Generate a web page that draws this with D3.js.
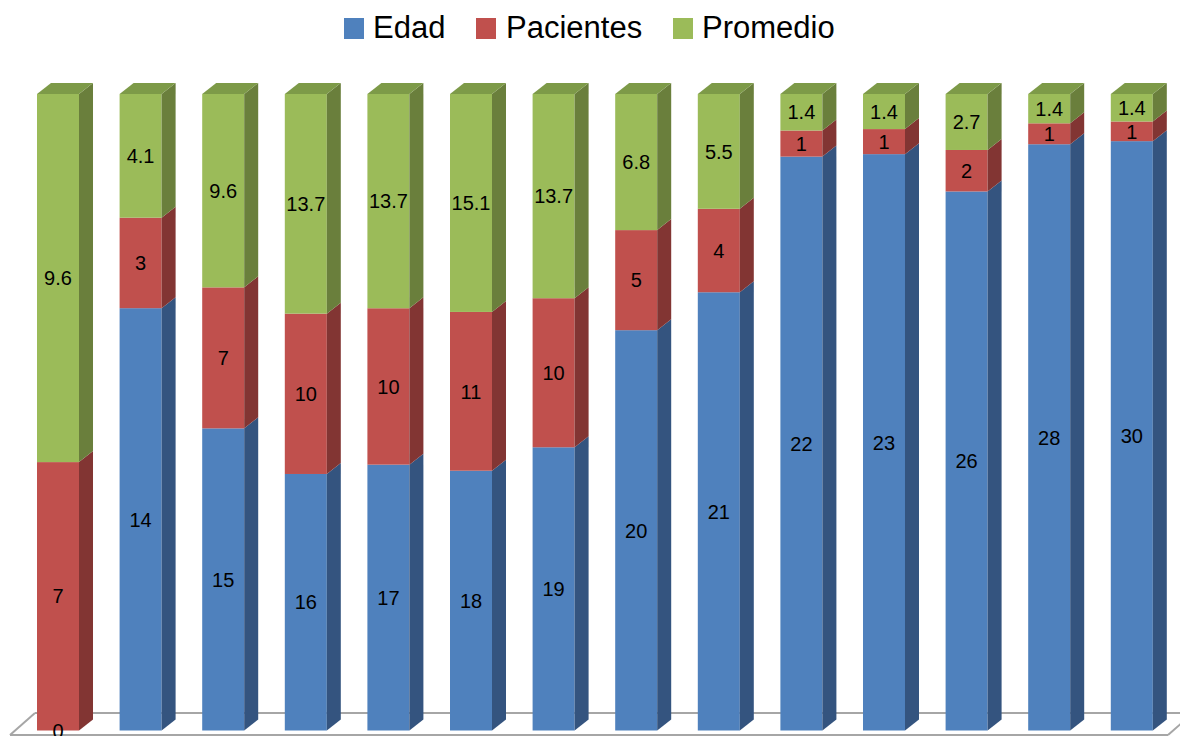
<!DOCTYPE html>
<html>
<head>
<meta charset="utf-8">
<script src="https://cdn.jsdelivr.net/npm/d3@7"></script>
<style>
  html, body { margin: 0; padding: 0; background: #ffffff; }
  svg { display: block; font-family: "Liberation Sans", Arial, sans-serif; }
</style>
</head>
<body>
<svg id="chart" width="1180" height="736"></svg>
<script>
// Age groups (one stacked column each) and the three stacked series
const categories = ["c1","c2","c3","c4","c5","c6","c7","c8","c9","c10","c11","c12","c13","c14"];
const edad      = [0, 14, 15, 16, 17, 18, 19, 20, 21, 22, 23, 26, 28, 30];
const pacientes = [7, 3, 7, 10, 10, 11, 10, 5, 4, 1, 1, 2, 1, 1];
const promedio  = [9.6, 4.1, 9.6, 13.7, 13.7, 15.1, 13.7, 6.8, 5.5, 1.4, 1.4, 2.7, 1.4, 1.4];
const seriesNames = ["Edad", "Pacientes", "Promedio"];

const colors = {
  Edad:      { front: "#4F81BD", side: "#34547F", top: "#3F6898" },
  Pacientes: { front: "#C0504D", side: "#823533", top: "#9E423F" },
  Promedio:  { front: "#9BBB59", side: "#6A7F3C", top: "#7D9A48" }
};

const svg = d3.select("#chart");

// 3D extrusion offsets
const depthX = 14, depthY = 11;

// Build rows and a 100% stack
const rows = categories.map((c, i) => ({
  cat: c, Edad: edad[i], Pacientes: pacientes[i], Promedio: promedio[i]
}));
const stack = d3.stack().keys(seriesNames).offset(d3.stackOffsetExpand);
const layers = stack(rows);

const x = d3.scaleBand()
  .domain(categories)
  .range([16.7, 1173.1])
  .paddingInner(0.4915)
  .paddingOuter(0.2458);

const y = d3.scaleLinear().domain([0, 1]).range([730.5, 94]);

// Floor
const floor = svg.append("g").attr("stroke", "#a6a6a6").attr("stroke-width", 2).attr("fill", "none");
floor.append("line").attr("x1", 35).attr("y1", 713).attr("x2", 1180).attr("y2", 713);
floor.append("line").attr("x1", 10).attr("y1", 735).attr("x2", 1168).attr("y2", 735);
floor.append("line").attr("x1", 35).attr("y1", 713).attr("x2", 10).attr("y2", 735);
floor.append("line").attr("x1", 1168).attr("y1", 735).attr("x2", 1184).attr("y2", 721);

// Bars
const bw = x.bandwidth();
const bars = svg.append("g");
categories.forEach((c, i) => {
  const g = bars.append("g");
  const x0 = x(c), x1 = x0 + bw;
  layers.forEach((layer, li) => {
    const d = layer[i];
    const y0 = y(d[0]), y1 = y(d[1]);
    const col = colors[layer.key];
    if (y0 - y1 > 0) {
      // front face
      g.append("rect")
        .attr("x", x0).attr("y", y1)
        .attr("width", bw).attr("height", y0 - y1)
        .attr("fill", col.front);
      // side face
      g.append("polygon")
        .attr("points", [[x1, y1], [x1 + depthX, y1 - depthY], [x1 + depthX, y0 - depthY], [x1, y0]].join(" "))
        .attr("fill", col.side);
    }
  });
  // top face of the stack
  const topLayer = layers[layers.length - 1];
  const yt = y(topLayer[i][1]);
  g.append("polygon")
    .attr("points", [[x0, yt], [x0 + depthX, yt - depthY], [x1 + depthX, yt - depthY], [x1, yt]].join(" "))
    .attr("fill", colors[topLayer.key].top);
});

// Data labels
const labels = svg.append("g")
  .attr("font-size", 20)
  .attr("fill", "#000")
  .attr("text-anchor", "middle");
layers.forEach(layer => {
  layer.forEach((d, i) => {
    const v = d.data[layer.key];
    labels.append("text")
      .attr("x", x(categories[i]) + bw / 2)
      .attr("y", (y(d[0]) + y(d[1])) / 2)
      .attr("dy", "0.36em")
      .text(String(v));
  });
});

// Legend
const legendItems = [
  { key: "Edad", sx: 344, tx: 373 },
  { key: "Pacientes", sx: 476, tx: 506 },
  { key: "Promedio", sx: 673, tx: 702 }
];
const legend = svg.append("g");
legendItems.forEach(it => {
  legend.append("rect")
    .attr("x", it.sx).attr("y", 18).attr("width", 20).attr("height", 21)
    .attr("fill", colors[it.key].front);
  legend.append("text")
    .attr("x", it.tx).attr("y", 38)
    .attr("font-size", 31)
    .attr("fill", "#000")
    .text(it.key);
});
</script>
</body>
</html>
